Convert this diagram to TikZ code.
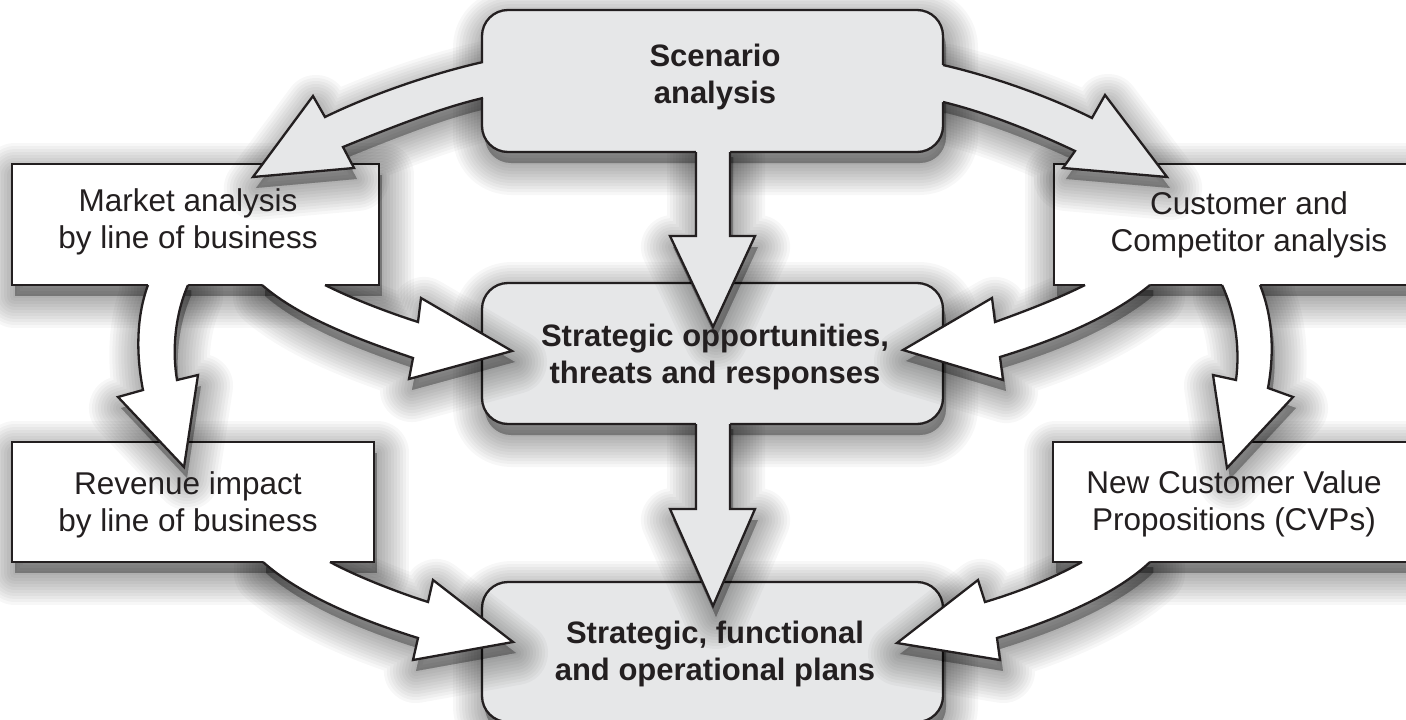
\documentclass[tikz,border=0pt]{standalone}
\usepackage{fontspec}
\setmainfont{Liberation Sans}
\definecolor{ink}{HTML}{231F20}
\definecolor{boxgray}{HTML}{E6E7E8}
\tikzset{
  outline/.style={draw=ink, line width=2.3pt},
  shadowlayer/.style={fill=black, draw=black, opacity=0.032, line join=round, shift={(3,11)}},
  lbl/.style={text=ink, align=center, inner sep=0pt, font=\fontsize{31.5}{37}\selectfont},
  blbl/.style={lbl, font=\fontsize{31}{37}\selectfont\bfseries},
  rbox/.style={rounded corners=26pt},
}
\newcommand\castshadow[2][]{\foreach \w in {64,58,...,4}{\path[shadowlayer,#1,line width=\w pt] #2;}}
\newcommand\blockarrow[3]{\fill[#1] #2 #3; \draw[outline] #2;}
% boxes
\def\bxTop{(482,10) rectangle (943,152)}
\def\bxMid{(482,283) rectangle (943,424)}
\def\bxBot{(482,582) rectangle (943,722)}
\def\bxMarket{(12,164) rectangle (379,285)}
\def\bxRevenue{(12,442) rectangle (374,562)}
\def\bxCust{(1054,164) rectangle (1440,285)}
\def\bxCvp{(1053,442) rectangle (1440,562)}
% arrows: open outline + closing part hidden inside the source box
\def\pA{(483,62) .. controls (430,74) and (370,95) .. (325,117) -- (313,96) -- (253,177) -- (354,168) -- (343,147) .. controls (390,128) and (440,108) .. (483,98)}
\def\xA{-- (489,98) -- (489,62) -- cycle}
\def\pB{(943,65) .. controls (995,77) and (1050,97) .. (1092,118) -- (1105,95) -- (1167,177) -- (1063,168) -- (1075,151) .. controls (1035,132) and (985,112) .. (943,102)}
\def\xB{-- (937,102) -- (937,65) -- cycle}
\def\pVa{(696,152) -- (696,236) -- (670,236) -- (713,327) -- (755,236) -- (730,236) -- (730,152)}
\def\xVa{-- (730,146) -- (696,146) -- cycle}
\def\pVb{(696,424) -- (696,509) -- (670,509) -- (713,606) -- (755,509) -- (730,509) -- (730,424)}
\def\xVb{-- (730,418) -- (696,418) -- cycle}
\def\pC{(325,285) .. controls (355,300) and (390,313) .. (418,322) -- (421,298) -- (512,351) -- (409,379) -- (413,358) .. controls (360,340) and (300,318) .. (262,285)}
\def\xC{-- (262,279) -- (325,279) -- cycle}
\def\pD{(148,285) .. controls (135,320) and (137,360) .. (143,390) -- (118,397) -- (184,467) -- (198,375) -- (177,380) .. controls (172,350) and (175,315) .. (188,285)}
\def\xD{-- (188,279) -- (148,279) -- cycle}
\def\pE{(330,562) .. controls (360,578) and (400,593) .. (428,602) -- (433,580) -- (513,642) -- (413,660) -- (418,638) .. controls (360,620) and (300,595) .. (263,562)}
\def\xE{-- (263,556) -- (330,556) -- cycle}
\def\pF{(1085,285) .. controls (1055,300) and (1020,313) .. (995,322) -- (992,298) -- (903,350) -- (1003,380) -- (1000,357) .. controls (1055,340) and (1110,318) .. (1150,285)}
\def\xF{-- (1150,279) -- (1085,279) -- cycle}
\def\pG{(1222,285) .. controls (1236,315) and (1240,350) .. (1236,380) -- (1213,375) -- (1227,468) -- (1293,397) -- (1268,388) .. controls (1275,350) and (1272,315) .. (1260,285)}
\def\xG{-- (1260,279) -- (1222,279) -- cycle}
\def\pH{(1082,562) .. controls (1050,580) and (1015,593) .. (985,602) -- (978,580) -- (897,643) -- (1000,660) -- (997,638) .. controls (1055,620) and (1115,595) .. (1150,562)}
\def\xH{-- (1150,556) -- (1082,556) -- cycle}
\begin{document}
\begin{tikzpicture}[x=1pt,y=-1pt]
\useasboundingbox (0,0) rectangle (1406,720);
\clip (0,0) rectangle (1406,720);
\fill[white] (0,0) rectangle (1406,720);
% bottom box
\castshadow[rbox]{\bxBot}
\path[rbox, fill=boxgray, outline] \bxBot;
% revenue group
\castshadow{\bxRevenue}
\castshadow{\pE \xE}
\path[fill=white, outline] \bxRevenue;
\blockarrow{white}{\pE}{\xE}
% CVP group
\castshadow{\bxCvp}
\castshadow{\pH \xH}
\path[fill=white, outline] \bxCvp;
\blockarrow{white}{\pH}{\xH}
% middle group
\castshadow[rbox]{\bxMid}
\castshadow{\pVb \xVb}
\path[rbox, fill=boxgray, outline] \bxMid;
\blockarrow{boxgray}{\pVb}{\xVb}
% market group
\castshadow{\bxMarket}
\castshadow{\pC \xC}
\castshadow{\pD \xD}
\path[fill=white, outline] \bxMarket;
\blockarrow{white}{\pC}{\xC}
\blockarrow{white}{\pD}{\xD}
% customer group
\castshadow{\bxCust}
\castshadow{\pF \xF}
\castshadow{\pG \xG}
\path[fill=white, outline] \bxCust;
\blockarrow{white}{\pF}{\xF}
\blockarrow{white}{\pG}{\xG}
% top group
\castshadow[rbox]{\bxTop}
\castshadow{\pA \xA}
\castshadow{\pB \xB}
\castshadow{\pVa \xVa}
\path[rbox, fill=boxgray, outline] \bxTop;
\blockarrow{boxgray}{\pA}{\xA}
\blockarrow{boxgray}{\pB}{\xB}
\blockarrow{boxgray}{\pVa}{\xVa}
% texts
\node[blbl] (scen) at (715,77) {Scenario\\analysis};
\node[blbl] (strat) at (715,356.5) {Strategic opportunities,\\threats and responses};
\node[blbl] (plans) at (715,653.5) {Strategic, functional\\and operational plans};
\node[lbl] (market) at (188,222) {Market analysis\\by line of business};
\node[lbl] (revenue) at (188,505) {Revenue impact\\by line of business};
\node[lbl] (cust) at (1249,225) {Customer and\\Competitor analysis};
\node[lbl] (cvp) at (1234,504) {New Customer Value\\Propositions (CVPs)};
\end{tikzpicture}
\end{document}
